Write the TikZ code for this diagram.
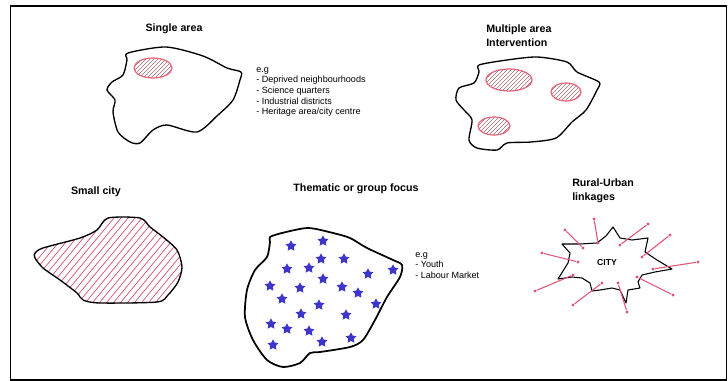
\documentclass[tikz,border=0pt]{standalone}
\usepackage{fontspec}
\setmainfont{Liberation Sans}
\usepackage{tikz}
\usetikzlibrary{shapes.geometric,calc}
\definecolor{hatchred}{RGB}{214,74,104}
\definecolor{ovalred}{RGB}{232,98,120}
\definecolor{starblue}{RGB}{62,54,200}
\definecolor{linkred}{RGB}{222,84,114}

\begin{document}
\begin{tikzpicture}[x=0.75pt, y=-0.75pt,
  title/.style={font=\bfseries\fontsize{8}{10.5}\selectfont, inner sep=0pt, align=left},
  note/.style={font=\fontsize{6.8}{8}\selectfont, inner sep=0pt, align=left, anchor=north west},
  outline/.style={line width=1pt, line join=round},
  thinhatch/.style={draw=gray!60!hatchred, line width=0.35pt},
  hatch/.style={draw=hatchred, line width=0.5pt},
  oval/.style={ellipse, draw=ovalred, line width=0.9pt, inner sep=0pt,
    path picture={\foreach \d in {-40,-36,...,40}
      \draw[thinhatch] ($(path picture bounding box.center)+(\d-20,20)$) -- ++(40,-40);}},
  stardot/.style={star, star points=5, star point ratio=1.9, fill=starblue, minimum size=8.5pt, inner sep=0pt},
  knot/.style={circle, fill=linkred, inner sep=0pt, minimum size=2.6pt},
  link/.style={draw=linkred, line width=0.8pt},
]
  \useasboundingbox (0,0) rectangle (728,381);
  \draw[line width=1pt] (10.5,6) rectangle (726.5,380);
  \draw[line width=2pt] (10,6) -- (727,6);

  % single area
  \node[title] (single) at (174,29) {Single area};
  \draw[outline] plot[smooth cycle, tension=0.45] coordinates {(128,53) (166,47) (203,56) (227,68) (241,72)
    (240,80) (233,100) (218,115) (197,132) (167,125) (153,130) (140,143) (130,142) (118,132) (113,112)
    (115,100) (107,90) (112,82) (123,75) (127,60)};
  \node[oval, minimum width=28.5pt, minimum height=15pt] (zone) at (153,68) {};
  \node[note] (examples) at (256,67) {e.g\\- Deprived neighbourhoods\\- Science quarters\\- Industrial districts\\- Heritage area/city centre};

  % multiple area
  \node[title, anchor=west] (multiple) at (486,36) {Multiple area\\Intervention};
  \draw[outline] plot[smooth cycle, tension=0.45] coordinates {(479,65) (507,60) (537,57) (567,62) (577,72)
    (599,82) (597,90) (586,110) (572,122) (556,138) (531,142) (507,143) (497,150) (477,148) (469,140)
    (472,120) (464,110) (456,100) (459,88) (474,83) (479,72)};
  \node[oval, minimum width=34.5pt, minimum height=16.5pt] (zoneA) at (509,80) {};
  \node[oval, minimum width=22.5pt, minimum height=13.5pt] (zoneB) at (566,92) {};
  \node[oval, minimum width=24pt, minimum height=13.5pt] (zoneC) at (494,126) {};

  % small city
  \node[title] (small) at (96,192) {Small city};
  \begin{scope}
    \clip plot[smooth cycle, tension=0.45] coordinates {(35,253) (43,248) (80,238) (97,230) (108,218) (140,218)
      (150,227) (163,237) (177,250) (182,267) (178,282) (168,295) (157,302) (100,303) (83,300) (77,293)
      (60,280) (43,268) (35,258)};
    \foreach \k in {-90,-83,...,190}
      \draw[hatch] (\k,320) -- ++(100,-120);
  \end{scope}
  \draw[outline] plot[smooth cycle, tension=0.45] coordinates {(35,253) (43,248) (80,238) (97,230) (108,218) (140,218)
    (150,227) (163,237) (177,250) (182,267) (178,282) (168,295) (157,302) (100,303) (83,300) (77,293)
    (60,280) (43,268) (35,258)};

  % thematic focus
  \node[title] (thematic) at (356,189) {Thematic or group focus};
  \draw[outline, line width=1.3pt] plot[smooth cycle, tension=0.45] coordinates {(270,237) (282,233) (308,228)
    (333,233) (350,238) (367,248) (393,260) (402,265) (400,277) (387,297) (375,320) (363,340) (350,347)
    (320,352) (310,353) (300,363) (283,367) (267,360) (253,340) (245,317) (247,290) (255,270) (267,257)
    (270,242)};
  \foreach \p [count=\i] in {(291,246),(323,241),(287,269),(309,268),(321,259),(344,259),(323,279),(368,274),
      (393,270),(270,286),(300,288),(342,287),(358,293),(282,299),(319,305),(376,304),(301,314),(346,315),
      (271,324),(287,329),(309,331),(273,345),(322,342),(351,338)}
    \node[stardot] (star\i) at \p {};
  \node[note] (groups) at (415,252) {e.g\\- Youth\\- Labour Market};

  % rural-urban linkages
  \node[title, anchor=west] (rural) at (572,191) {Rural-Urban\\linkages};
  \draw[outline, line width=0.8pt] (562,244) -- (580,244) -- (597,243) -- (606,236) -- (613,227) -- (620,238)
    -- (632,240) -- (648,238) -- (645,252) -- (657,260) -- (672,269) -- (655,272) -- (642,275) -- (638,282)
    -- (640,288) -- (628,290) -- (626,303) -- (620,290) -- (612,288) -- (600,290) -- (592,291) -- (590,283)
    -- (582,278) -- (572,277) -- (558,279) -- (563,271) -- (568,263) -- (570,253) -- cycle;
  \node[font=\bfseries\fontsize{6.5}{7}\selectfont, inner sep=0pt] (city) at (607,263) {CITY};
  \foreach \ox/\oy/\ix/\iy [count=\i] in {594/219/598/243, 565/230/583/248, 542/253/578/262, 535/291/573/275,
      573/305/602/283, 648/224/620/245, 670/235/642/257, 698/262/653/269, 673/295/637/277, 627/312/618/283}
  {
    \node[knot] (far\i) at (\ox,\oy) {};
    \node[knot] (near\i) at (\ix,\iy) {};
    \draw[link] (near\i) -- (far\i);
  }
\end{tikzpicture}
\end{document}
